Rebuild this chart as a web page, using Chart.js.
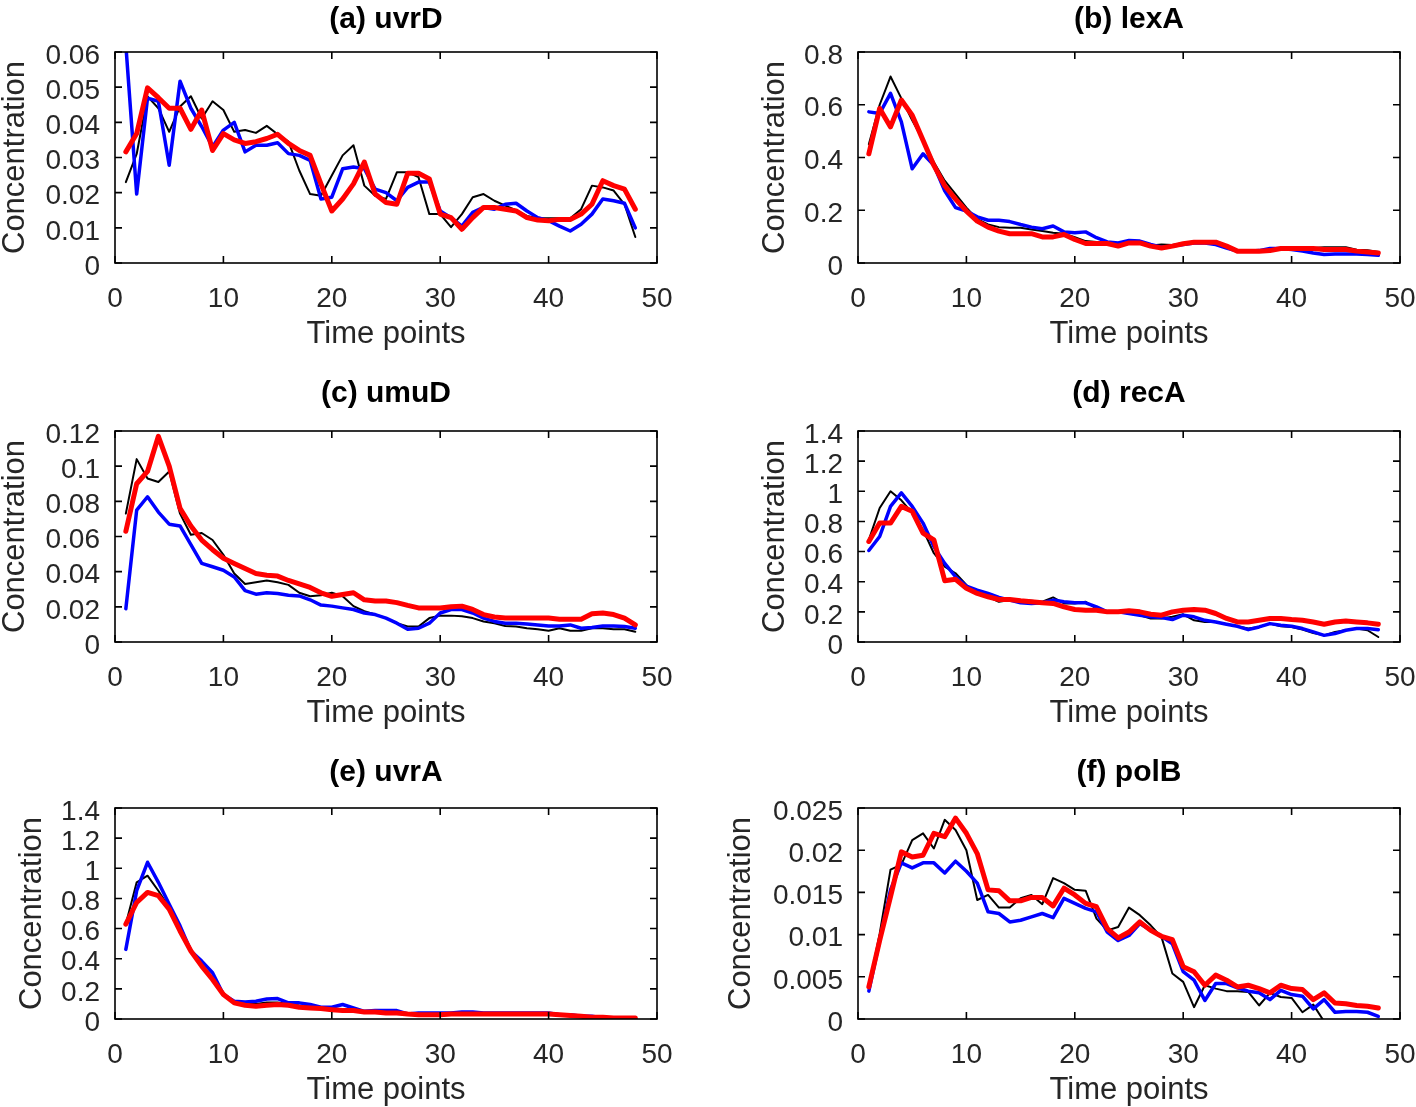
<!DOCTYPE html>
<html>
<head>
<meta charset="utf-8">
<script src="https://cdn.jsdelivr.net/npm/chart.js@4.4.0/dist/chart.umd.min.js"></script>
<style>
  html, body { margin: 0; padding: 0; background: #fff; overflow: hidden; width: 1416px; height: 1107px; }
  body { position: relative; }
  canvas { position: absolute; }
</style>
</head>
<body>
<canvas id="cA" width="760" height="379" style="left:0px;top:0px"></canvas>
<canvas id="cB" width="740" height="379" style="left:700px;top:0px"></canvas>
<canvas id="cC" width="760" height="379" style="left:0px;top:379px"></canvas>
<canvas id="cD" width="740" height="379" style="left:700px;top:379px"></canvas>
<canvas id="cE" width="760" height="351" style="left:0px;top:756px"></canvas>
<canvas id="cF" width="740" height="351" style="left:700px;top:756px"></canvas>
<script>
// x values (time points) and tick labels
const timePoints = [1, 2, 3, 4, 5, 6, 7, 8, 9, 10, 11, 12, 13, 14, 15, 16, 17, 18, 19, 20, 21, 22, 23, 24,
  25, 26, 27, 28, 29, 30, 31, 32, 33, 34, 35, 36, 37, 38, 39, 40, 41, 42, 43, 44, 45, 46, 47, 48];
const xTicks = [0, 10, 20, 30, 40, 50];

const yTicksA = [0, 0.01, 0.02, 0.03, 0.04, 0.05, 0.06];
const yTicksB = [0, 0.2, 0.4, 0.6, 0.8];
const yTicksC = [0, 0.02, 0.04, 0.06, 0.08, 0.1, 0.12];
const yTicksD = [0, 0.2, 0.4, 0.6, 0.8, 1, 1.2, 1.4];
const yTicksE = [0, 0.2, 0.4, 0.6, 0.8, 1, 1.2, 1.4];
const yTicksF = [0, 0.005, 0.01, 0.015, 0.02, 0.025];

// (a) uvrD
const uvrdBlack = [0.023, 0.031, 0.0474, 0.044, 0.0373, 0.0445, 0.0474, 0.0411, 0.046, 0.0435, 0.0373, 0.0378,
  0.037, 0.039, 0.0366, 0.0345, 0.0263, 0.0196, 0.0191, 0.0249, 0.0306, 0.0335, 0.022, 0.0191,
  0.0182, 0.0258, 0.0258, 0.0244, 0.0139, 0.0139, 0.0102, 0.0139, 0.0187, 0.0196, 0.0177, 0.0163,
  0.015, 0.0134, 0.0127, 0.0127, 0.0127, 0.0127, 0.0153, 0.022, 0.0215, 0.0206, 0.0167, 0.0074];
const uvrdBlue = [0.062, 0.0196, 0.0469, 0.046, 0.0278, 0.0517, 0.044, 0.0388, 0.033, 0.0378, 0.040, 0.0316,
  0.0335, 0.0335, 0.0342, 0.0311, 0.0306, 0.0292, 0.0182, 0.0187, 0.0268, 0.0273, 0.0268, 0.021,
  0.020, 0.0177, 0.0215, 0.023, 0.023, 0.0148, 0.0129, 0.0105, 0.0144, 0.0158, 0.0153, 0.0167,
  0.017, 0.0148, 0.0129, 0.012, 0.0105, 0.0091, 0.011, 0.0139, 0.0182, 0.0177, 0.017, 0.010];
const uvrdRed = [0.0316, 0.0368, 0.0498, 0.047, 0.044, 0.044, 0.038, 0.0435, 0.032, 0.0368, 0.035, 0.034,
  0.0345, 0.0354, 0.0366, 0.034, 0.032, 0.0306, 0.0225, 0.0148, 0.0182, 0.0225, 0.0287, 0.0196,
  0.0172, 0.0167, 0.0255, 0.0255, 0.0239, 0.0139, 0.0129, 0.0096, 0.0129, 0.0158, 0.0158, 0.0153,
  0.0148, 0.0129, 0.0122, 0.012, 0.0124, 0.0124, 0.0139, 0.0167, 0.0234, 0.022, 0.021, 0.0153];

// (b) lexA
const lexaBlack = [0.45, 0.6, 0.707, 0.624, 0.541, 0.465, 0.382, 0.312, 0.261, 0.21, 0.166, 0.146,
  0.136, 0.134, 0.134, 0.127, 0.121, 0.115, 0.111, 0.098, 0.083, 0.08, 0.078, 0.072,
  0.08, 0.078, 0.066, 0.07, 0.068, 0.076, 0.082, 0.082, 0.08, 0.062, 0.045, 0.045,
  0.046, 0.05, 0.055, 0.055, 0.055, 0.057, 0.06, 0.06, 0.06, 0.05, 0.048, 0.042];
const lexaBlue = [0.573, 0.567, 0.643, 0.535, 0.357, 0.414, 0.37, 0.274, 0.21, 0.197, 0.175, 0.162,
  0.162, 0.157, 0.146, 0.136, 0.13, 0.14, 0.118, 0.115, 0.118, 0.096, 0.08, 0.076,
  0.085, 0.083, 0.07, 0.06, 0.064, 0.07, 0.076, 0.076, 0.07, 0.057, 0.045, 0.045,
  0.047, 0.055, 0.055, 0.051, 0.045, 0.038, 0.032, 0.034, 0.034, 0.034, 0.032, 0.029];
const lexaRed = [0.414, 0.586, 0.516, 0.618, 0.56, 0.465, 0.37, 0.293, 0.242, 0.197, 0.159, 0.136,
  0.121, 0.111, 0.111, 0.111, 0.099, 0.099, 0.108, 0.089, 0.074, 0.074, 0.074, 0.064,
  0.076, 0.076, 0.064, 0.057, 0.064, 0.073, 0.079, 0.079, 0.079, 0.064, 0.045, 0.045,
  0.045, 0.047, 0.055, 0.055, 0.055, 0.055, 0.051, 0.051, 0.051, 0.045, 0.042, 0.038];

// (c) umuD
const umudBlack = [0.073, 0.104, 0.093, 0.091, 0.097, 0.073, 0.061, 0.062, 0.058, 0.0496, 0.039, 0.033,
  0.034, 0.035, 0.034, 0.0325, 0.028, 0.026, 0.0266, 0.028, 0.026, 0.0204, 0.0175, 0.0156,
  0.0136, 0.0107, 0.0088, 0.0088, 0.0136, 0.015, 0.015, 0.0146, 0.0136, 0.0117, 0.0107, 0.0091,
  0.0088, 0.0078, 0.0072, 0.0064, 0.0078, 0.0064, 0.0064, 0.0078, 0.0078, 0.0072, 0.0072, 0.0058];
const umudBlue = [0.0189, 0.075, 0.0826, 0.0739, 0.067, 0.066, 0.0554, 0.0447, 0.0428, 0.0408, 0.037, 0.0292,
  0.0272, 0.028, 0.0276, 0.0266, 0.0262, 0.024, 0.021, 0.0204, 0.0194, 0.0185, 0.0165, 0.0156,
  0.0136, 0.0107, 0.0072, 0.0078, 0.0107, 0.0165, 0.0185, 0.0185, 0.0165, 0.0136, 0.0117, 0.0107,
  0.0107, 0.0103, 0.0097, 0.0091, 0.0091, 0.0097, 0.0078, 0.0082, 0.0091, 0.0091, 0.0088, 0.0078];
const umudRed = [0.063, 0.09, 0.097, 0.117, 0.1, 0.076, 0.066, 0.058, 0.0525, 0.0476, 0.0447, 0.0418,
  0.039, 0.038, 0.0375, 0.035, 0.033, 0.031, 0.028, 0.026, 0.027, 0.028, 0.024, 0.0233,
  0.0233, 0.0224, 0.0208, 0.0194, 0.0194, 0.0194, 0.02, 0.0204, 0.0185, 0.0156, 0.0142, 0.0136,
  0.0136, 0.0136, 0.0136, 0.0136, 0.013, 0.013, 0.013, 0.0161, 0.0165, 0.0156, 0.0136, 0.0097];

// (d) recA
const recaBlack = [0.678, 0.889, 1.0, 0.94, 0.856, 0.744, 0.589, 0.5, 0.456, 0.378, 0.322, 0.3,
  0.267, 0.278, 0.278, 0.273, 0.267, 0.296, 0.256, 0.256, 0.267, 0.222, 0.2, 0.2,
  0.189, 0.178, 0.156, 0.156, 0.167, 0.184, 0.144, 0.133, 0.133, 0.118, 0.104, 0.089,
  0.1, 0.122, 0.104, 0.1, 0.082, 0.06, 0.044, 0.067, 0.078, 0.089, 0.078, 0.033];
const recaBlue = [0.607, 0.7, 0.9, 0.989, 0.9, 0.789, 0.633, 0.522, 0.433, 0.371, 0.344, 0.322,
  0.296, 0.278, 0.26, 0.256, 0.26, 0.278, 0.267, 0.26, 0.26, 0.233, 0.2, 0.2,
  0.189, 0.178, 0.167, 0.162, 0.149, 0.178, 0.167, 0.144, 0.133, 0.118, 0.104, 0.082,
  0.1, 0.122, 0.111, 0.104, 0.089, 0.067, 0.044, 0.056, 0.078, 0.089, 0.089, 0.082];
const recaRed = [0.667, 0.789, 0.789, 0.9, 0.867, 0.722, 0.678, 0.407, 0.416, 0.356, 0.322, 0.3,
  0.282, 0.282, 0.273, 0.267, 0.26, 0.256, 0.233, 0.216, 0.211, 0.211, 0.2, 0.2,
  0.207, 0.2, 0.184, 0.178, 0.2, 0.211, 0.216, 0.211, 0.189, 0.156, 0.133, 0.133,
  0.144, 0.156, 0.156, 0.149, 0.144, 0.133, 0.118, 0.133, 0.14, 0.133, 0.127, 0.118];

// (e) uvrA
const uvraBlack = [0.63, 0.907, 0.951, 0.851, 0.74, 0.6, 0.46, 0.36, 0.27, 0.17, 0.11, 0.1,
  0.1, 0.11, 0.11, 0.1, 0.09, 0.085, 0.075, 0.07, 0.065, 0.06, 0.05, 0.048,
  0.045, 0.042, 0.038, 0.035, 0.035, 0.035, 0.035, 0.037, 0.037, 0.035, 0.035, 0.034,
  0.034, 0.033, 0.033, 0.032, 0.03, 0.025, 0.02, 0.015, 0.012, 0.01, 0.008, 0.007];
const uvraBlue = [0.462, 0.851, 1.04, 0.907, 0.762, 0.618, 0.451, 0.384, 0.307, 0.162, 0.118, 0.113,
  0.118, 0.133, 0.136, 0.107, 0.107, 0.096, 0.078, 0.078, 0.096, 0.073, 0.051, 0.056,
  0.056, 0.056, 0.033, 0.04, 0.04, 0.04, 0.04, 0.047, 0.047, 0.04, 0.04, 0.04,
  0.04, 0.04, 0.04, 0.04, 0.029, 0.029, 0.018, 0.018, 0.007, 0.007, 0.007, 0.002];
const uvraRed = [0.629, 0.773, 0.84, 0.818, 0.729, 0.584, 0.451, 0.351, 0.262, 0.162, 0.107, 0.091,
  0.084, 0.091, 0.096, 0.091, 0.078, 0.073, 0.069, 0.062, 0.056, 0.056, 0.047, 0.047,
  0.04, 0.04, 0.033, 0.029, 0.029, 0.029, 0.033, 0.033, 0.033, 0.033, 0.033, 0.033,
  0.033, 0.033, 0.033, 0.033, 0.029, 0.024, 0.018, 0.011, 0.011, 0.007, 0.007, 0.007];

// (f) polB
const polbBlack = [0.0038, 0.0101, 0.0177, 0.0183, 0.0212, 0.022, 0.0202, 0.0236, 0.0224, 0.02, 0.0141, 0.0147,
  0.0132, 0.0132, 0.0143, 0.0147, 0.0136, 0.0167, 0.0161, 0.0153, 0.0152, 0.0119, 0.0105, 0.0109,
  0.0132, 0.0123, 0.0111, 0.0097, 0.0054, 0.0044, 0.0014, 0.004, 0.0036, 0.0033, 0.0033, 0.0032,
  0.0016, 0.0031, 0.0026, 0.0025, 0.0008, 0.0017, -0.0003, -0.0005, -0.0005, -0.0005, -0.0005, -0.0005];
const polbBlue = [0.0033, 0.0093, 0.0153, 0.0185, 0.0179, 0.0185, 0.0185, 0.0173, 0.0187, 0.0175, 0.0161, 0.0127,
  0.0125, 0.0115, 0.0117, 0.0121, 0.0125, 0.012, 0.0143, 0.0137, 0.0131, 0.0127, 0.0103, 0.0093,
  0.0099, 0.0113, 0.0105, 0.0098, 0.0089, 0.0056, 0.0046, 0.0022, 0.0042, 0.0042, 0.0037, 0.0033,
  0.0031, 0.0023, 0.0034, 0.0029, 0.0027, 0.0012, 0.0023, 0.0008, 0.0009, 0.0009, 0.0008, 0.0003];
const polbRed = [0.0038, 0.0093, 0.0145, 0.0198, 0.0192, 0.0194, 0.022, 0.0216, 0.0238, 0.022, 0.0196, 0.0153,
  0.0152, 0.014, 0.014, 0.0144, 0.0144, 0.0134, 0.0155, 0.0147, 0.0137, 0.0133, 0.0107, 0.0096,
  0.0103, 0.0115, 0.0105, 0.0098, 0.0094, 0.0062, 0.0056, 0.004, 0.0052, 0.0046, 0.0038, 0.004,
  0.0036, 0.0031, 0.004, 0.0036, 0.0035, 0.0023, 0.0031, 0.0019, 0.0018, 0.0016, 0.0015, 0.0013];

const textColor = "#262626";
const fontFamily = "'Liberation Sans', Arial, Helvetica, sans-serif";

// layout of each panel inside its canvas
const panels = [
  { id: "cA", title: "(a) uvrD", yTicks: yTicksA, black: uvrdBlack, blue: uvrdBlue, red: uvrdRed, yWidth: 115, padRight: 103, padBottom: 29, titleTop: 5, yTitlePad: 0 },
  { id: "cB", title: "(b) lexA", yTicks: yTicksB, black: lexaBlack, blue: lexaBlue, red: lexaRed, yWidth: 158, padRight: 40, padBottom: 29, titleTop: 5, yTitlePad: 59.5 },
  { id: "cC", title: "(c) umuD", yTicks: yTicksC, black: umudBlack, blue: umudBlue, red: umudRed, yWidth: 115, padRight: 103, padBottom: 29, titleTop: 0, yTitlePad: 0 },
  { id: "cD", title: "(d) recA", yTicks: yTicksD, black: recaBlack, blue: recaBlue, red: recaRed, yWidth: 158, padRight: 40, padBottom: 29, titleTop: 0, yTitlePad: 59.5 },
  { id: "cE", title: "(e) uvrA", yTicks: yTicksE, black: uvraBlack, blue: uvraBlue, red: uvraRed, yWidth: 115, padRight: 103, padBottom: 1, titleTop: 2, yTitlePad: 16.5 },
  { id: "cF", title: "(f) polB", yTicks: yTicksF, black: polbBlack, blue: polbBlue, red: polbRed, yWidth: 158, padRight: 40, padBottom: 1, titleTop: 2, yTitlePad: 25.5 }
];

// box round the plot with inward ticks on all four sides
const boxPlugin = {
  id: "box",
  afterDatasetsDraw(chart) {
    const { ctx, chartArea: a, scales: { x, y } } = chart;
    ctx.save();
    ctx.strokeStyle = "#000";
    ctx.lineWidth = 1.6;
    ctx.beginPath();
    x.ticks.forEach(t => {
      const px = x.getPixelForValue(t.value);
      ctx.moveTo(px, a.bottom); ctx.lineTo(px, a.bottom - 7);
      ctx.moveTo(px, a.top); ctx.lineTo(px, a.top + 7);
    });
    y.ticks.forEach(t => {
      const py = y.getPixelForValue(t.value);
      ctx.moveTo(a.left, py); ctx.lineTo(a.left + 7, py);
      ctx.moveTo(a.right, py); ctx.lineTo(a.right - 7, py);
    });
    ctx.stroke();
    ctx.strokeRect(a.left, a.top, a.right - a.left, a.bottom - a.top);
    ctx.restore();
  }
};

function makeChart(p) {
  const yTicks = p.yTicks;
  new Chart(document.getElementById(p.id), {
    type: "line",
    data: {
      labels: timePoints,
      datasets: [
        { data: p.red, borderColor: "#ff0000", borderWidth: 5, order: 0 },
        { data: p.blue, borderColor: "#0000ff", borderWidth: 3.5, order: 1 },
        { data: p.black, borderColor: "#000000", borderWidth: 2, order: 2 }
      ]
    },
    options: {
      responsive: false,
      animation: false,
      devicePixelRatio: 1,
      datasets: { line: { clip: 0 } },
      elements: { point: { radius: 0 }, line: { tension: 0, borderJoinStyle: "round", borderCapStyle: "round" } },
      layout: { padding: { left: 0, top: 0, right: p.padRight, bottom: p.padBottom } },
      plugins: {
        legend: { display: false },
        tooltip: { enabled: false },
        title: {
          display: true, text: p.title, color: "#000", fullSize: false,
          font: { family: fontFamily, size: 30, weight: "bold", lineHeight: 1 },
          padding: { top: p.titleTop, bottom: 52 - 30 - p.titleTop }
        }
      },
      scales: {
        x: {
          type: "linear", min: 0, max: 50,
          afterBuildTicks: s => { s.ticks = xTicks.map(v => ({ value: v })); },
          afterFit: s => { s.height = 87; },
          grid: { display: false, drawTicks: false },
          border: { display: false },
          ticks: { autoSkip: false, maxRotation: 0, padding: 22, color: textColor,
            font: { family: fontFamily, size: 28, lineHeight: 1 }, callback: v => String(v) },
          title: { display: true, text: "Time points", color: textColor, padding: 0,
            font: { family: fontFamily, size: 31, lineHeight: 1 } }
        },
        y: {
          type: "linear", min: yTicks[0], max: yTicks[yTicks.length - 1],
          afterBuildTicks: s => { s.ticks = yTicks.map(v => ({ value: v })); },
          afterFit: s => { s.width = p.yWidth; },
          grid: { display: false, drawTicks: false },
          border: { display: false },
          ticks: { autoSkip: false, padding: 15, labelOffset: 4, color: textColor,
            font: { family: fontFamily, size: 28, lineHeight: 1 }, callback: v => String(v) },
          title: { display: true, text: "Concentration", color: textColor, padding: { top: p.yTitlePad, bottom: 0 },
            font: { family: fontFamily, size: 31, lineHeight: 1 } }
        }
      }
    },
    plugins: [boxPlugin]
  });
}

panels.forEach(makeChart);
</script>
</body>
</html>
